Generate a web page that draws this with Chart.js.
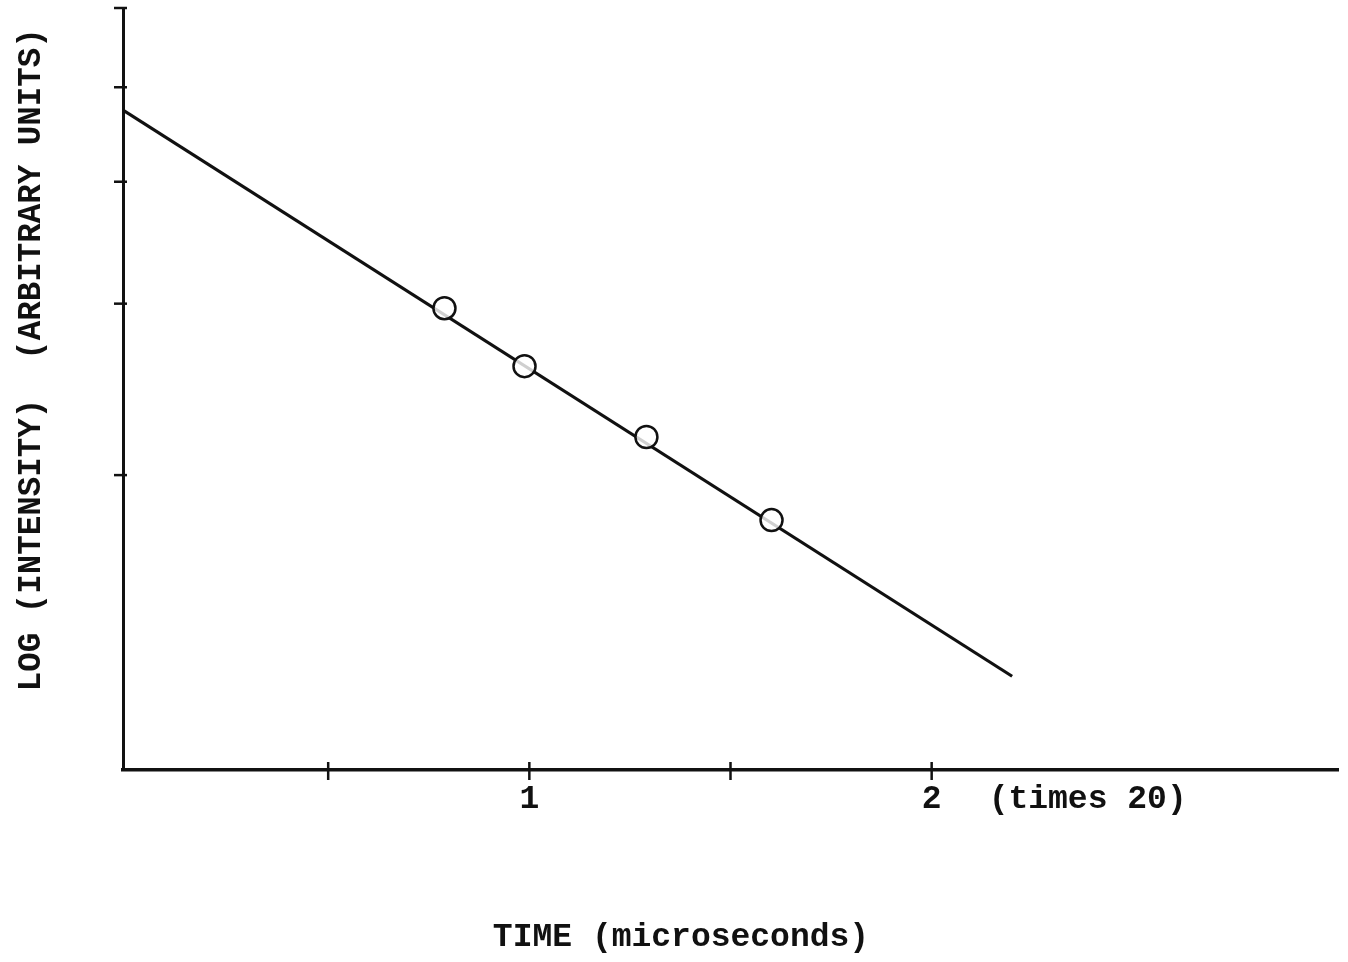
<!DOCTYPE html>
<html>
<head>
<meta charset="utf-8">
<script src="https://cdn.jsdelivr.net/npm/chart.js@4/dist/chart.umd.min.js"></script>
<style>
html,body{margin:0;padding:0;background:#fff;}
#wrap{width:1348px;height:962px;}
</style>
</head>
<body>
<div id="wrap"><canvas id="c" width="1348" height="962"></canvas></div>
<script>
// ---- data ----
const xTickValues = [0.5, 1, 1.5, 2];
const xTickLabels = {1: '1', 2: '2'};
const yTickValues = [3.87, 6.12, 7.72, 8.96, 10];
const measuredX = [0.789, 0.988, 1.291, 1.602];
const measuredY = [6.06, 5.30, 4.37, 3.28];
const fitX = [-0.01, 2.20];
const fitY = [8.66, 1.23];
const xTitle = 'TIME (microseconds)';
const yTitle = 'LOG (INTENSITY)  (ARBITRARY UNITS)';
const xNote = '(times 20)';

const INK = '#111';
const FONT = {family: '"Liberation Mono", "DejaVu Sans Mono", monospace', size: 33, weight: 'bold'};

const tickMarks = {
  id: 'tickMarks',
  afterDraw(chart) {
    const ctx = chart.ctx;
    const xs = chart.scales.x, ys = chart.scales.y;
    const ax = chart.chartArea.left, ay = chart.chartArea.bottom;
    ctx.save();
    ctx.strokeStyle = INK;
    ctx.lineWidth = 2.5;
    xs.ticks.forEach(t => {
      const px = xs.getPixelForValue(t.value);
      ctx.beginPath(); ctx.moveTo(px, ay - 8); ctx.lineTo(px, ay + 10); ctx.stroke();
    });
    ys.ticks.forEach(t => {
      const py = ys.getPixelForValue(t.value);
      ctx.beginPath(); ctx.moveTo(ax - 9, py); ctx.lineTo(ax + 4, py); ctx.stroke();
    });
    // note after the last labelled tick
    ctx.fillStyle = INK;
    ctx.font = `${FONT.weight} ${FONT.size}px ${FONT.family}`;
    ctx.textAlign = 'left';
    ctx.textBaseline = 'middle';
    ctx.fillText(xNote, xs.getPixelForValue(2) + 57, ay + 30);
    ctx.restore();
  }
};

new Chart(document.getElementById('c'), {
  type: 'scatter',
  data: {
    datasets: [
      {
        type: 'line',
        data: fitX.map((x, i) => ({x, y: fitY[i]})),
        borderColor: INK,
        borderWidth: 3.2,
        pointRadius: 0,
        fill: false,
        order: 2
      },
      {
        data: measuredX.map((x, i) => ({x, y: measuredY[i]})),
        pointStyle: 'circle',
        pointRadius: 11,
        pointBorderWidth: 2.5,
        pointBorderColor: INK,
        pointBackgroundColor: 'rgba(255,255,255,0.8)',
        order: 1
      }
    ]
  },
  options: {
    responsive: false,
    animation: false,
    devicePixelRatio: 1,
    layout: {autoPadding: false, padding: {top: 8, right: 10, bottom: 0, left: 0}},
    plugins: {legend: {display: false}, tooltip: {enabled: false}},
    scales: {
      x: {
        type: 'linear',
        min: -0.01,
        max: 3.01,
        afterBuildTicks: s => { s.ticks = xTickValues.map(v => ({value: v})); },
        afterFit: s => { s.height = 192; },
        ticks: {
          callback: v => xTickLabels[v] ?? '',
          autoSkip: false,
          maxRotation: 0,
          padding: 10,
          color: INK,
          font: FONT
        },
        grid: {display: false, drawTicks: false},
        border: {display: true, color: INK, width: 3.5},
        title: {
          display: true,
          text: xTitle + '     ',
          color: INK,
          font: FONT,
          padding: {top: 4, bottom: 5}
        }
      },
      y: {
        type: 'linear',
        min: 0,
        max: 10,
        afterBuildTicks: s => { s.ticks = yTickValues.map(v => ({value: v})); },
        afterFit: s => { s.width = 123; },
        ticks: {display: false},
        grid: {display: false, drawTicks: false},
        border: {display: true, color: INK, width: 3},
        title: {
          display: true,
          text: '   ' + yTitle,
          color: INK,
          font: {family: FONT.family, size: 32.5, weight: 'bold'},
          padding: {top: 12, bottom: 0}
        }
      }
    }
  },
  plugins: [tickMarks]
});
</script>
</body>
</html>
